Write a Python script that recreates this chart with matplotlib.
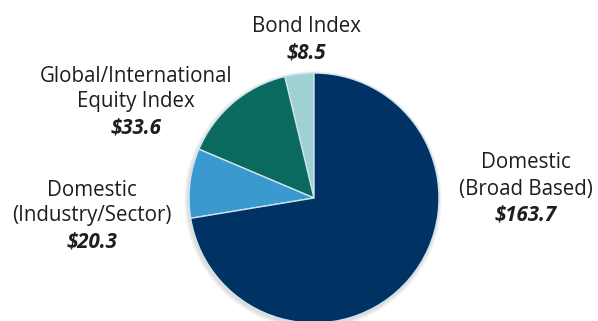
import numpy as np
import matplotlib.pyplot as plt
from matplotlib.patches import Circle

# Values in $ billions, counterclockwise from the top
categories = ["Bond Index", "Global/International\nEquity Index",
              "Domestic\n(Industry/Sector)", "Domestic\n(Broad Based)"]
values = [8.5, 33.6, 20.3, 163.7]
value_labels = ["$8.5", "$33.6", "$20.3", "$163.7"]
colors = ["#9fd0d2", "#0b6a60", "#3a99cf", "#003263"]

W, H = 598, 321
fig = plt.figure(figsize=(W / 100, H / 100), dpi=100)
ax = fig.add_axes([0, 0, 1, 1])
ax.set_xlim(0, W)
ax.set_ylim(0, H)
ax.set_aspect("equal")
ax.axis("off")

cx, cy, r = 314, H - 198, 125

# soft shadow around the pie
for i, a in enumerate([0.05, 0.06, 0.08, 0.10]):
    ax.add_patch(Circle((cx - 1, cy - 2), r + 4 - i, color="#888888", alpha=a, lw=0, zorder=0))

ax.pie(values, colors=colors, startangle=90, counterclock=True,
       center=(cx, cy), radius=r, frame=True,
       wedgeprops=dict(edgecolor="#cfe3ee", linewidth=1.0))
ax.set_xlim(0, W)
ax.set_ylim(0, H)
ax.axis("off")

font = "Open Sans"
txt_color = "#1e1e1e"
fs = 14.8

# label positions in pixels (x center, y of name, y of value)
label_pos = [
    (306, [26], 53),
    (136, [76, 102], 128),
    (92, [190, 216], 242),
    (526, [163, 189], 215),
]

for name, val, (x, ys, yv) in zip(categories, value_labels, label_pos):
    for line, y in zip(name.split("\n"), ys):
        ax.text(x, H - y, line, ha="center", va="center", fontsize=fs,
                family=font, color=txt_color)
    ax.text(x, H - yv, val, ha="center", va="center", fontsize=fs,
            family=font, color=txt_color, fontweight="bold", fontstyle="italic")

fig.savefig("out.png", dpi=100)
